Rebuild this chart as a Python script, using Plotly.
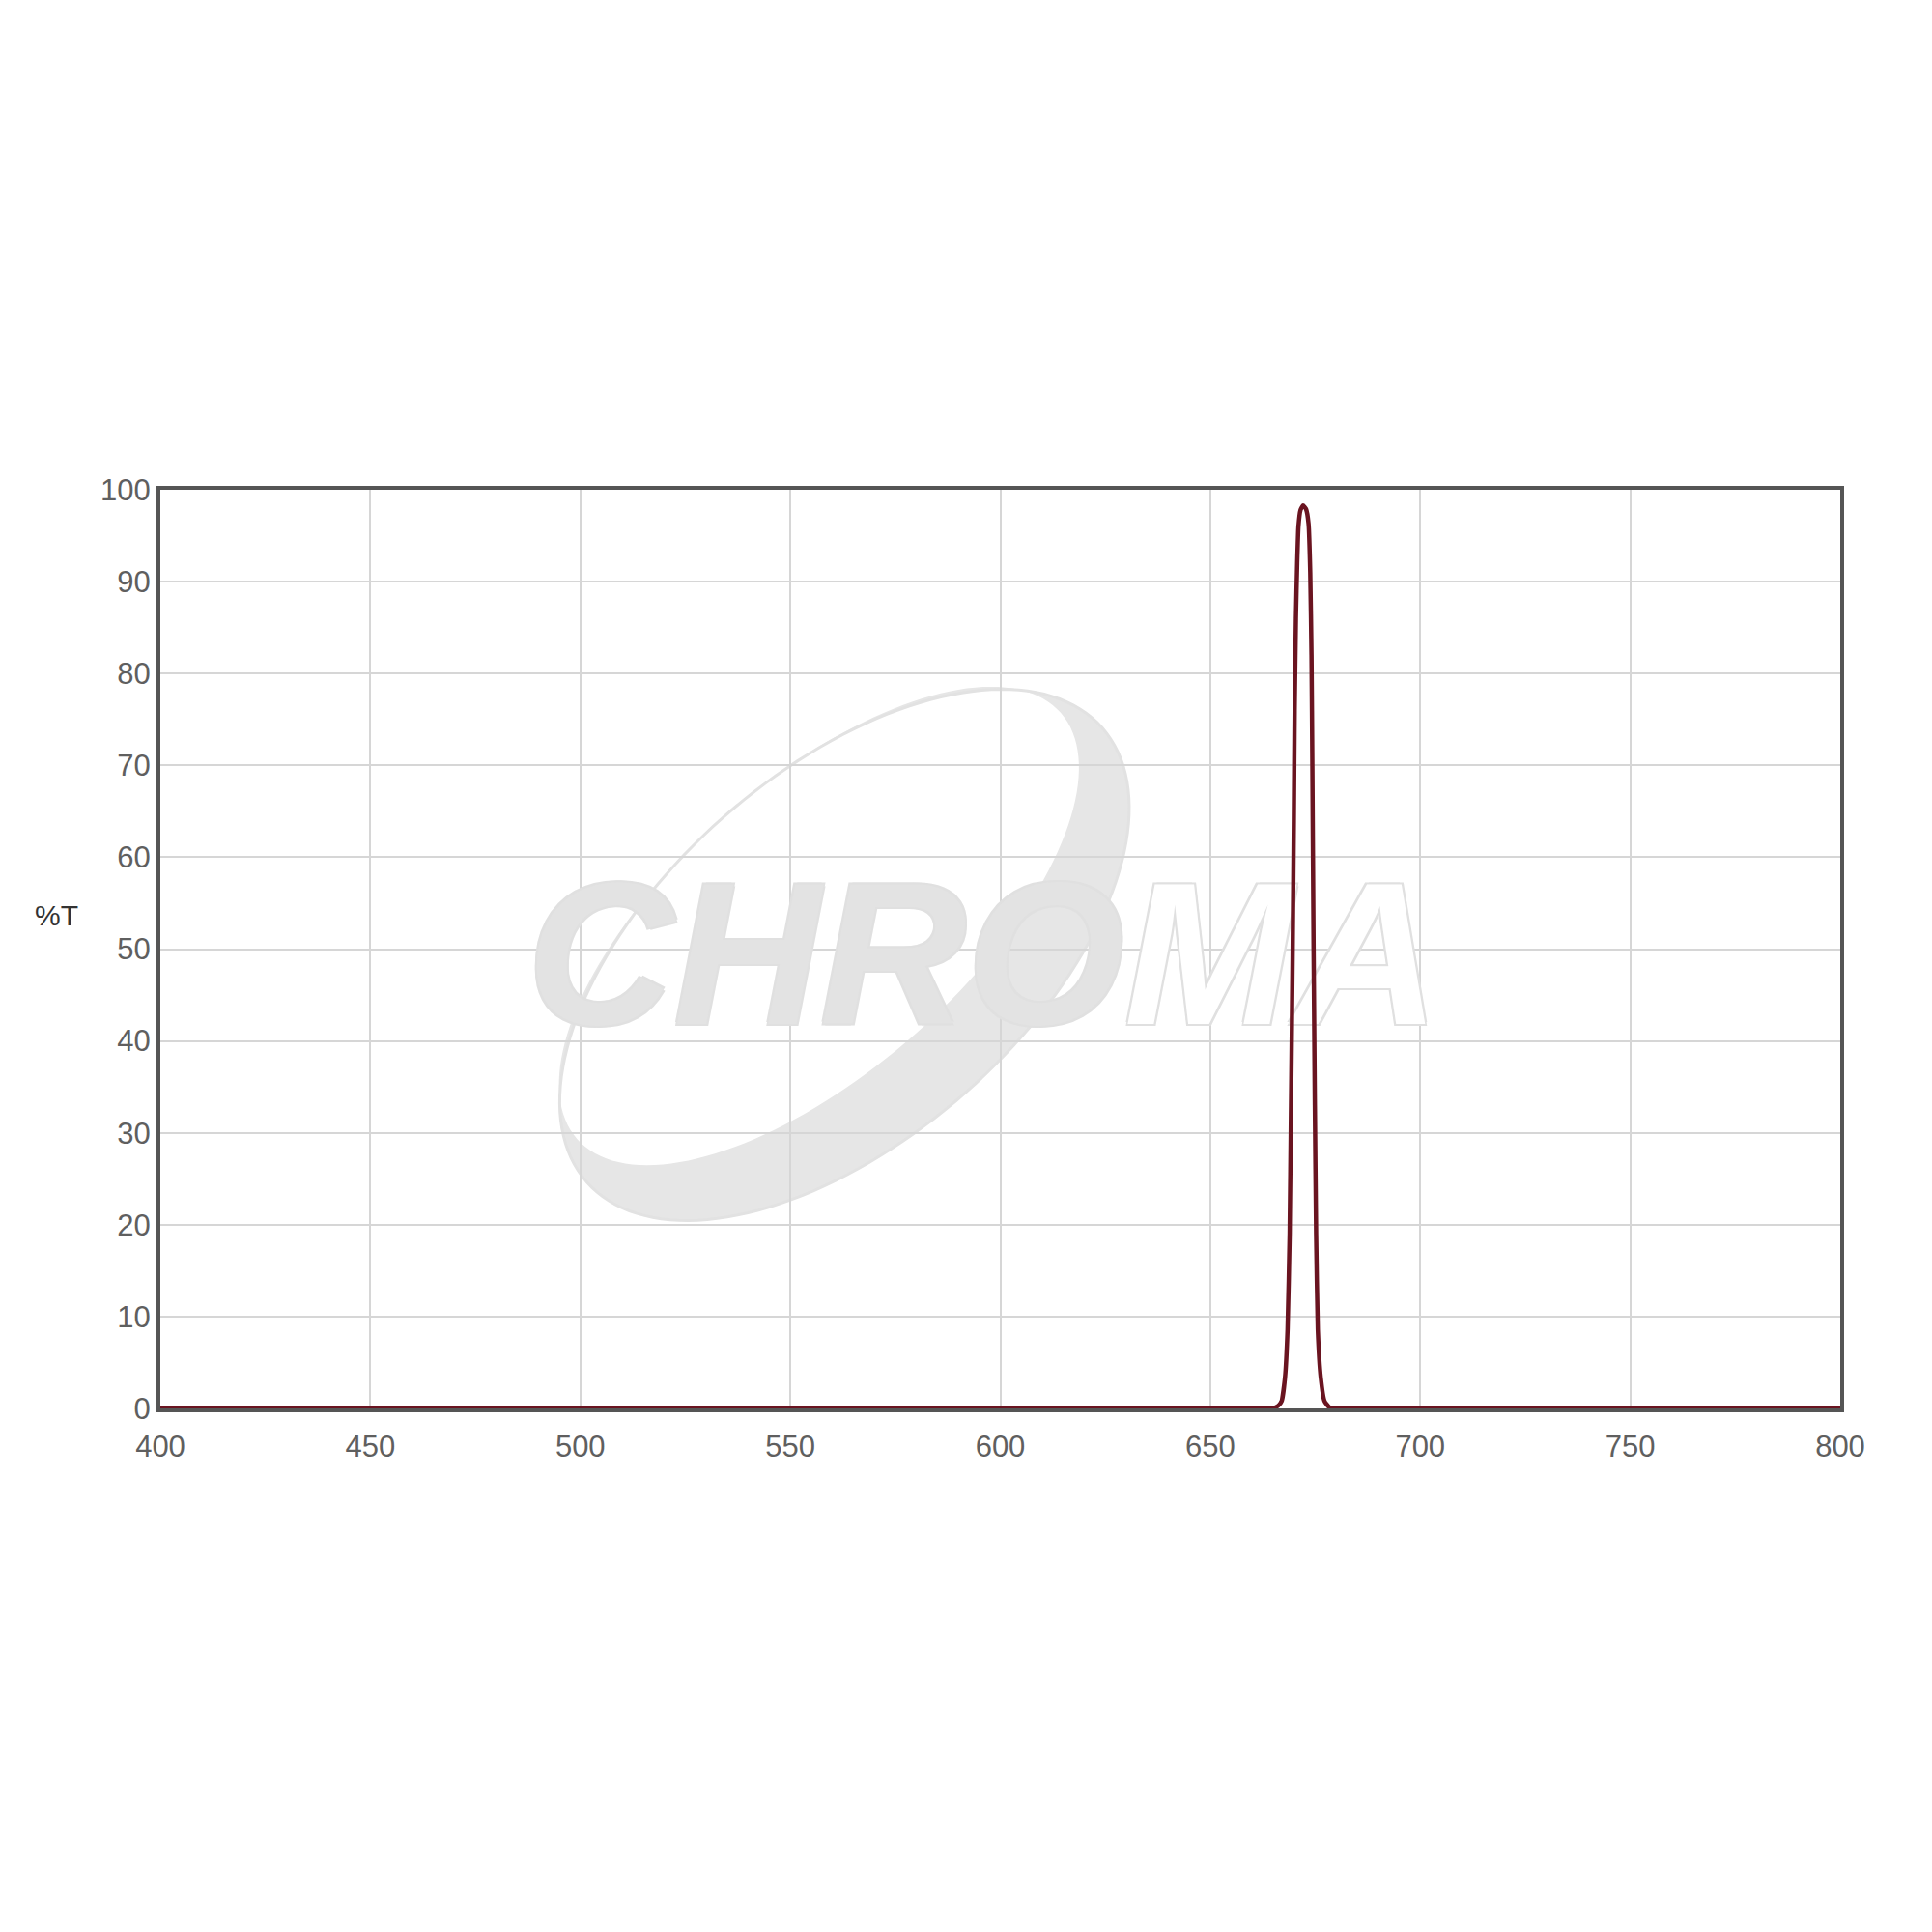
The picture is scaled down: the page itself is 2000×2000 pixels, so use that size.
import numpy as np
import plotly.graph_objects as go

# ---- data ----
wavelength_nm = [400, 600, 660, 664, 665.4, 666.2, 667.0, 667.8, 668.4, 668.9, 669.2,
                 669.6, 669.9, 670.1, 670.4, 670.7, 671.0, 671.5, 672.1, 672.8, 673.4,
                 673.8, 674.1, 674.3, 674.6, 674.9, 675.2, 675.6, 676.3, 677.2, 678.4,
                 680, 700, 800]
transmission_pct = [0, 0, 0, 0.02, 0.1, 0.3, 0.8, 3.4, 8.6, 19, 32,
                    49, 64, 76, 86, 92, 96, 97.8, 98.3, 97.9, 96.3,
                    91, 82, 70, 50, 33, 19, 8.6, 3.4, 0.8, 0.1,
                    0, 0, 0]
x_ticks = [400, 450, 500, 550, 600, 650, 700, 750, 800]
y_ticks = [0, 10, 20, 30, 40, 50, 60, 70, 80, 90, 100]

# ---- layout geometry (pixels) ----
W, H = 2000, 2000
# plot frame as measured on the reference (used for the watermark placement)
RL, RR, RT, RB = 165, 1906, 503, 1455
# margins compensated for the page offset
L, R, T, B = 158, 1897, 499, 1450
XMIN, XMAX, YMIN, YMAX = 400, 800, 0, 100


def px2data(px, py):
    return (XMIN + (px - RL) / (RR - RL) * (XMAX - XMIN),
            YMIN + (RB - py) / (RB - RT) * (YMAX - YMIN))


def ellipse_pts(cx, cy, a, b, theta_deg, n=160, reverse=False):
    th = np.radians(theta_deg)
    t = np.linspace(0, 2 * np.pi, n, endpoint=False)
    if reverse:
        t = t[::-1]
    ux, uy = np.cos(th), -np.sin(th)
    vx, vy = -np.sin(th), -np.cos(th)
    px = cx + a * np.cos(t) * ux + b * np.sin(t) * vx
    py = cy + a * np.cos(t) * uy + b * np.sin(t) * vy
    return [px2data(x, y) for x, y in zip(px, py)]


def to_path(pts):
    return "M " + " L ".join(f"{x:.3f},{y:.3f}" for x, y in pts) + " Z"


# watermark logo geometry
cx, cy, a, b, ang = 874, 985, 356, 190, 41.4
shift = 40
thv = np.radians(ang)
vx, vy = -np.sin(thv), -np.cos(thv)
outer = ellipse_pts(cx, cy, a, b, ang)
inner = ellipse_pts(cx + shift * vx, cy + shift * vy, a - 22, b - shift, ang, reverse=True)
crescent_path = to_path(outer) + " " + to_path(inner)
outline_path = to_path(outer)

fig = go.Figure()

# watermark word (drawn first so the curve sits above it)
wx, wy = px2data(545, 1004)
fig.add_trace(go.Scatter(
    x=[wx], y=[wy], mode="text",
    text=["CHRO<span style='color:white'>MA</span>"],
    textposition="middle right",
    textfont=dict(family="Liberation Sans", size=210, color="#e3e3e3",
                  weight="bold", style="italic",
                  shadow="2px 2px 0 #e0e0e0, -2px -2px 0 #e0e0e0, 2px -2px 0 #e0e0e0, -2px 2px 0 #e0e0e0"),
    hoverinfo="skip", showlegend=False))

fig.add_trace(go.Scatter(
    x=wavelength_nm, y=transmission_pct, mode="lines",
    line=dict(color="#6a1420", width=4.5, shape="spline", smoothing=0.4),
    hoverinfo="x+y", showlegend=False))

fig.update_layout(
    width=W, height=H,
    margin=dict(l=L, r=W - R, t=T, b=H - B, pad=0),
    paper_bgcolor="white", plot_bgcolor="white",
    font=dict(family="Liberation Sans, Arial, sans-serif"),
    shapes=[
        dict(type="path", path=crescent_path, xref="x", yref="y", layer="below",
             fillcolor="#e6e6e6", line=dict(width=0)),
        dict(type="path", path=outline_path, xref="x", yref="y", layer="below",
             fillcolor="rgba(0,0,0,0)", line=dict(color="#e2e2e2", width=3)),
    ],
    annotations=[
        dict(text="%T", xref="paper", yref="paper",
             x=(57.5 - RL) / (RR - RL), y=(RB - 944) / (RB - RT),
             xanchor="center", yanchor="middle", showarrow=False,
             font=dict(size=30, color="#333333", family="Liberation Sans")),
    ],
)

fig.update_xaxes(
    range=[XMIN, XMAX], tickvals=x_ticks, ticktext=[str(v) for v in x_ticks],
    showgrid=True, gridcolor="#d6d6d6", gridwidth=1.5,
    showline=True, mirror=True, linecolor="#555555", linewidth=4,
    ticks="", zeroline=False, layer="below traces", ticklabelstandoff=9,
    tickfont=dict(size=31, color="#5f5f5f", family="Liberation Sans"))
fig.update_yaxes(
    range=[YMIN, YMAX], tickvals=y_ticks, ticktext=[str(v) for v in y_ticks],
    showgrid=True, gridcolor="#d6d6d6", gridwidth=1.5,
    showline=True, mirror=True, linecolor="#555555", linewidth=4,
    ticks="", zeroline=False, layer="below traces",
    tickfont=dict(size=31, color="#5f5f5f", family="Liberation Sans"))

fig.write_html("out.html")
